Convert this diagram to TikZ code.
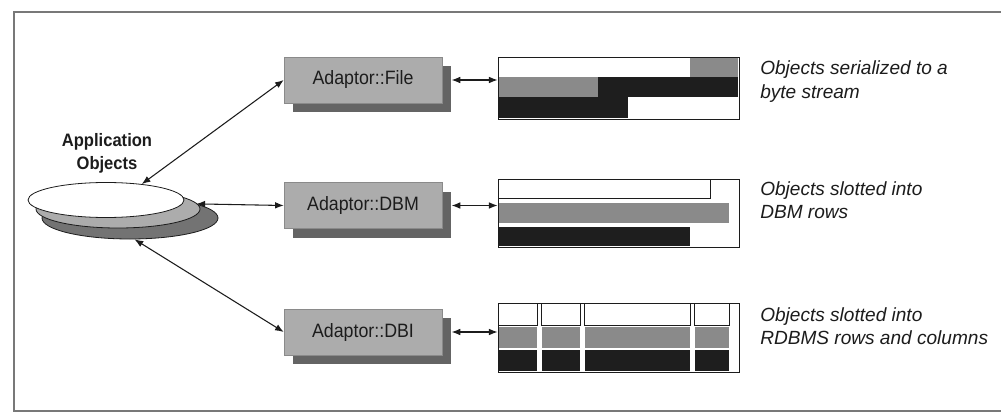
\documentclass[tikz,border=0pt]{standalone}
\usepackage{fontspec}
\setmainfont{Liberation Sans}
\newfontfamily\boxfont[FakeStretch=0.92]{Liberation Sans}
\usetikzlibrary{arrows.meta,shapes.geometric,shadows}
\definecolor{boxfill}{RGB}{172,172,172}
\definecolor{shadowgray}{RGB}{100,100,100}
\definecolor{midgray}{RGB}{138,138,138}
\definecolor{nearblack}{RGB}{30,30,30}
\definecolor{framegray}{RGB}{120,120,120}
\definecolor{layerlight}{RGB}{172,172,172}
\definecolor{layerdark}{RGB}{115,115,115}
\definecolor{inkgray}{RGB}{28,28,28}
\tikzset{
  adaptorbox/.style={draw=boxfill!80!black, line width=0.4pt, fill=boxfill,
    minimum width=118.5pt, minimum height=34.5pt, inner sep=0pt,
    font=\boxfont\fontsize{14.5}{17}\selectfont, text=inkgray,
    drop shadow={shadow xshift=6.75pt, shadow yshift=-6.75pt, fill=shadowgray, opacity=1}},
  databox/.style={draw=inkgray, line width=0.6pt, fill=white, minimum width=180.75pt, inner sep=0pt},
  dlabel/.style={anchor=west, align=left, inner sep=0pt, text=inkgray,
    font=\itshape\fontsize{14.3}{17.5}\selectfont},
  link/.style={draw=inkgray, line width=0.8pt, {Latex[length=6.5pt,width=5pt]}-{Latex[length=6.5pt,width=5pt]}},
  disk/.style={ellipse, draw=inkgray, line width=0.6pt, inner sep=0pt},
  darkfill/.style={fill=nearblack},
  grayfill/.style={fill=midgray},
  cellbox/.style={draw=inkgray, line width=0.5pt, fill=white}
}
\begin{document}
\begin{tikzpicture}[x=0.75pt,y=-0.75pt]
\useasboundingbox (0,0) rectangle (1001,414);
\fill[white] (0,0) rectangle (1001,414);
% frame
\draw[framegray, line width=1.6pt] (1002,12) -- (14,12) -- (14,411) -- (1002,411);

% application objects stack
\node[disk, fill=layerdark, minimum width=132pt, minimum height=31.5pt] (app3) at (130,218) {};
\node[disk, fill=layerlight, minimum width=123pt, minimum height=28.5pt] (app2) at (118,209) {};
\node[disk, fill=white, minimum width=117pt, minimum height=26.25pt] (app) at (106,200) {};
\node[align=center, inner sep=0pt, text=inkgray, font=\boxfont\bfseries\fontsize{13.5}{17}\selectfont] (apptext) at (107,153.5) {Application\\Objects};

% adaptor boxes
\node[adaptorbox] (file) at (363,80) {Adaptor::File};
\node[adaptorbox] (dbm) at (363,205.5) {Adaptor::DBM};
\node[adaptorbox] (dbi) at (363,332) {Adaptor::DBI};

% data boxes
\node[databox, minimum height=46.5pt] (fdata) at (618.5,88) {};
\node[databox, minimum height=51pt] (mdata) at (618.5,213) {};
\node[databox, minimum height=51.75pt] (idata) at (618.5,337.5) {};

% file data rows
\fill[grayfill] (690,58) rectangle (738,77);
\draw[inkgray, line width=0.4pt] (499,77) -- (690,77);
\fill[grayfill] (499,77) rectangle (598,97);
\fill[darkfill] (598,77) rectangle (738,97);
\fill[darkfill] (499,97) rectangle (628,118);

% dbm data rows
\draw[cellbox] (498,179) rectangle (710,198);
\fill[grayfill] (499,203) rectangle (729,223);
\fill[darkfill] (499,227) rectangle (690,246);

% dbi data cells
\foreach \xa/\xb in {498/537, 541/580, 584/690, 694/729} {
  \draw[cellbox] (\xa,303) rectangle (\xb,325);
  \fill[grayfill] (\xa+0.8,327) rectangle (\xb,348);
  \fill[darkfill] (\xa+0.8,350) rectangle (\xb,371);
}

% labels
\node[dlabel] (t1) at (760,81.5) {Objects serialized to a\\byte stream};
\node[dlabel] (t2) at (760,200) {Objects slotted into\\DBM rows};
\node[dlabel] (t3) at (760,326.5) {Objects slotted into\\RDBMS rows and columns};

% connectors
\draw[link] (app.24) -- (file.west);
\draw[link] (app3.12) -- (dbm.west);
\draw[link] (app3.-78) -- (dbi.west);
\draw[link] ([xshift=7pt]file.east) -- (file.east -| fdata.west);
\draw[link] ([xshift=7pt]dbm.east) -- (dbm.east -| mdata.west);
\draw[link] ([xshift=7pt]dbi.east) -- (dbi.east -| idata.west);
\end{tikzpicture}
\end{document}
